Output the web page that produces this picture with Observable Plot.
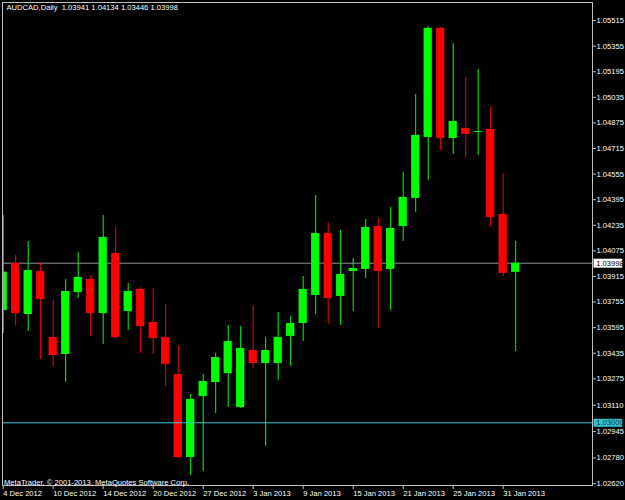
<!DOCTYPE html>
<html><head><meta charset="utf-8">
<script src="https://cdn.jsdelivr.net/npm/d3@7"></script>
<script src="https://cdn.jsdelivr.net/npm/@observablehq/plot@0.6"></script>
<style>html,body{margin:0;padding:0;background:#000;overflow:hidden}</style>
</head><body><div id="chart"></div>
<script>
const dates = ["4 Dec 2012","5 Dec 2012","6 Dec 2012","7 Dec 2012","10 Dec 2012","11 Dec 2012","12 Dec 2012","13 Dec 2012","14 Dec 2012","17 Dec 2012","18 Dec 2012","19 Dec 2012","20 Dec 2012","21 Dec 2012","24 Dec 2012","26 Dec 2012","27 Dec 2012","28 Dec 2012","31 Dec 2012","2 Jan 2013","3 Jan 2013","4 Jan 2013","7 Jan 2013","8 Jan 2013","9 Jan 2013","10 Jan 2013","11 Jan 2013","14 Jan 2013","15 Jan 2013","16 Jan 2013","17 Jan 2013","18 Jan 2013","21 Jan 2013","22 Jan 2013","23 Jan 2013","24 Jan 2013","25 Jan 2013","28 Jan 2013","29 Jan 2013","30 Jan 2013","31 Jan 2013","1 Feb 2013"];
const open  = [1.03702,1.03996,1.03677,1.03946,1.03533,1.03427,1.03815,1.03896,1.03683,1.04059,1.03696,1.03834,1.03627,1.03533,1.03302,1.02783,1.03164,1.03252,1.03308,1.03096,1.03452,1.03371,1.03371,1.03540,1.03621,1.03796,1.04184,1.03790,1.03946,1.03959,1.04227,1.03959,1.04227,1.04403,1.04784,1.05466,1.04778,1.04840,1.04815,1.04834,1.04303,1.03941];
const high  = [1.04296,1.04046,1.04134,1.04002,1.03765,1.03896,1.04065,1.03921,1.04296,1.04221,1.03871,1.03846,1.03840,1.03740,1.03483,1.03177,1.03302,1.03433,1.03608,1.03602,1.03734,1.03533,1.03690,1.03665,1.03915,1.04421,1.04252,1.04202,1.04027,1.04271,1.04278,1.04346,1.04565,1.05053,1.05478,1.05472,1.05372,1.05159,1.05209,1.04972,1.04559,1.04134];
const low   = [1.03558,1.03608,1.03571,1.03396,1.03352,1.03252,1.03777,1.03540,1.03490,1.03527,1.03577,1.03433,1.03427,1.03227,1.02777,1.02670,1.02695,1.03058,1.03096,1.03090,1.03340,1.02852,1.03265,1.03352,1.03508,1.03677,1.03615,1.03608,1.03696,1.03902,1.03590,1.03702,1.04134,1.04315,1.04515,1.04703,1.04678,1.04659,1.04671,1.04221,1.03915,1.03446];
const close = [1.03942,1.03683,1.03952,1.03771,1.03421,1.03821,1.03909,1.03683,1.04159,1.03533,1.03821,1.03602,1.03527,1.03365,1.02783,1.03146,1.03258,1.03408,1.03508,1.03465,1.03371,1.03452,1.03533,1.03621,1.03834,1.04184,1.03777,1.03927,1.03965,1.04221,1.03946,1.04215,1.04409,1.04797,1.05466,1.04778,1.04884,1.04803,1.04821,1.04284,1.03934,1.03998];
const priceTicks = [1.05515,1.05355,1.05195,1.05035,1.04875,1.04715,1.04555,1.04395,1.04235,1.04075,1.03915,1.03755,1.03595,1.03435,1.03275,1.03110,1.02945,1.02780,1.02620];
const xTickIndex = [0,4,8,12,16,20,24,28,32,36,40];
const bidPrice = 1.03998;
const levelPrice = 1.03000;
const titleText = "AUDCAD,Daily  1.03941 1.04134 1.03446 1.03998";
const copyrightText = "MetaTrader, \u00a9 2001-2013, MetaQuotes Software Corp.";

const xDomain = [-0.056, 47.144];
const yDomain = [1.02608, 1.05628];
const UP = "#00ff00", DOWN = "#ff0000";

const candles = dates.map((d, i) => ({i, date: d, open: open[i], high: high[i], low: low[i], close: close[i],
  color: close[i] >= open[i] ? UP : DOWN}));

const chart = Plot.plot({
  width: 625, height: 500,
  marginLeft: 2, marginRight: 33, marginTop: 2, marginBottom: 15,
  style: {background: "#000", color: "#fff", fontFamily: "Liberation Sans, Arial, sans-serif", fontSize: "7.6px"},
  x: {domain: xDomain, axis: null},
  y: {domain: yDomain, axis: null},
  color: {type: "identity"},
  marks: [
    Plot.ruleY([bidPrice], {stroke: "#8e969e"}),
    Plot.ruleX(candles, {x: "i", y1: "low", y2: "high", stroke: "color", strokeWidth: 1, clip: true}),
    Plot.rect(candles, {x1: d => d.i - 0.33, x2: d => d.i + 0.33, y1: "open", y2: "close", fill: "color", clip: true}),
    Plot.ruleY([levelPrice], {stroke: "#3cc8d6"}),
    Plot.frame({stroke: "#c0c0c0"}),
    Plot.axisY(priceTicks, {anchor: "right", tickSize: 3, tickPadding: 1, tickFormat: d => d.toFixed(5), stroke: "#c0c0c0", fill: "#fff", label: null}),
    Plot.axisX(xTickIndex, {anchor: "bottom", tickSize: 4, tickPadding: 1, tickFormat: i => dates[i], textAnchor: "start", stroke: "#c0c0c0", fill: "#fff", label: null}),
    Plot.ruleY([bidPrice], {x1: xDomain[1] + 0.12, x2: xDomain[1] + 2.42, stroke: "#ffffff", strokeWidth: 9}),
    Plot.text([bidPrice], {x: xDomain[1] + 0.3, y: d => d, text: d => d.toFixed(5), textAnchor: "start", fill: "#000"}),
    Plot.ruleY([levelPrice], {x1: xDomain[1] + 0.12, x2: xDomain[1] + 2.42, stroke: "#33c0cc", strokeWidth: 8}),
    Plot.text([levelPrice], {x: xDomain[1] + 0.3, y: d => d, text: d => d.toFixed(5), textAnchor: "start", fill: "#0a3a40"}),
    Plot.text([titleText], {frameAnchor: "top-left", dx: 4, dy: 2, lineAnchor: "top", textAnchor: "start", text: d => d, fill: "#fff"}),
    Plot.text([copyrightText], {frameAnchor: "bottom-left", dx: 1.5, dy: -1, lineAnchor: "bottom", textAnchor: "start", text: d => d, fill: "#fff"})
  ]
});
document.getElementById("chart").appendChild(chart);
</script>
</body></html>
